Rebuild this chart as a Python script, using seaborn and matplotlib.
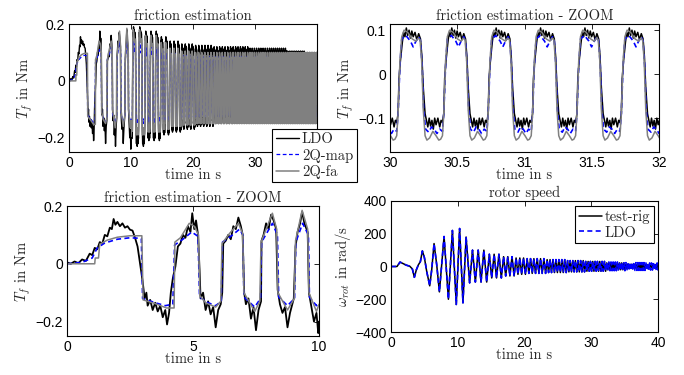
import numpy as np
import matplotlib
matplotlib.use("Agg")
import matplotlib.pyplot as plt
import seaborn as sns

# friction estimate, first 10 s
fa_t = [0, 1.1, 1.12, 1.25, 1.3, 1.6, 2.0, 2.5, 2.97, 3.02, 3.5, 3.95, 4.25, 4.28, 4.5, 4.85, 5.05,
        5.22, 5.27, 5.5, 5.9, 6.1, 6.15, 6.45, 6.8, 6.97, 7.02, 7.45, 7.65, 7.7, 8.15, 8.32, 8.37,
        8.75, 9.02, 9.07, 9.33, 9.55, 9.6, 9.9, 10.0]
fa_v = [0, 0, 0.02, 0.02, 0.068, 0.082, 0.092, 0.097, 0.097, -0.125, -0.138, -0.153, -0.153, 0.075,
        0.09, 0.14, 0.13, 0.1, -0.11, -0.135, -0.15, -0.13, 0.07, 0.105, 0.14, 0.105, -0.1, -0.165,
        -0.13, 0.075, 0.175, 0.12, -0.1, -0.16, -0.12, 0.08, 0.185, 0.12, -0.1, -0.165, -0.14]

map_t = [0, 0.6, 1.0, 1.2, 1.5, 2.0, 2.5, 2.95, 3.0, 3.5, 3.9, 4.2, 4.27, 4.6, 4.95, 5.2, 5.26, 5.6,
         5.9, 6.12, 6.17, 6.5, 6.85, 6.98, 7.02, 7.45, 7.68, 7.72, 8.15, 8.35, 8.4, 8.75, 9.03,
         9.08, 9.35, 9.58, 9.62, 9.9, 10.0]
map_v = [0, 0.005, 0.02, 0.055, 0.072, 0.085, 0.09, 0.088, -0.12, -0.135, -0.145, -0.14, 0.065,
         0.085, 0.11, 0.095, -0.115, -0.135, -0.145, -0.13, 0.075, 0.095, 0.12, 0.1, -0.115, -0.15,
         -0.12, 0.075, 0.14, 0.1, -0.115, -0.145, -0.12, 0.075, 0.14, 0.1, -0.115, -0.145, -0.135]

ldo_t = [0, 0.15, 0.3, 0.45, 0.6, 0.75, 0.9, 1.0, 1.1, 1.2, 1.3, 1.4, 1.5, 1.6, 1.7, 1.78, 1.85,
         1.92, 2.0, 2.1, 2.2, 2.3, 2.4, 2.5, 2.6, 2.7, 2.8, 2.9, 3.0, 3.08, 3.15, 3.2, 3.3, 3.4, 3.5,
         3.6, 3.7, 3.8, 3.9, 3.97, 4.05, 4.12, 4.2, 4.3, 4.4, 4.5, 4.6, 4.7, 4.8, 4.9, 4.97, 5.05,
         5.12, 5.2, 5.26, 5.3, 5.4, 5.5, 5.6, 5.7, 5.8, 5.9, 6.0, 6.1, 6.16, 6.2, 6.3, 6.4, 6.5,
         6.6, 6.7, 6.8, 6.9, 6.97, 7.03, 7.1, 7.2, 7.3, 7.4, 7.5, 7.6, 7.7, 7.72, 7.8, 7.9, 8.0,
         8.1, 8.2, 8.3, 8.36, 8.45, 8.55, 8.65, 8.75, 8.85, 9.0, 9.07, 9.15, 9.25, 9.33, 9.42,
         9.55, 9.6, 9.7, 9.8, 9.9, 9.97, 10.0]
ldo_v = [0.005, 0.0, 0.008, 0.002, 0.015, 0.01, 0.035, 0.03, 0.055, 0.05, 0.075, 0.07, 0.1,
         0.095, 0.125, 0.12, 0.155, 0.135, 0.145, 0.13, 0.14, 0.125, 0.13, 0.118, 0.115, 0.09,
         0.06, 0.0, -0.06, -0.12, -0.1, -0.145, -0.125, -0.16, -0.135, -0.165, -0.145, -0.185,
         -0.16, -0.21, -0.17, -0.1, -0.05, -0.01, 0.06, 0.07, 0.1, 0.09, 0.13, 0.11, 0.175, 0.12,
         0.15, 0.1, -0.02, -0.12, -0.1, -0.16, -0.13, -0.175, -0.15, -0.22, -0.16, -0.14, -0.1,
         0.07, 0.08, 0.1, 0.085, 0.13, 0.12, 0.16, 0.13, 0.1, -0.1, -0.14, -0.12, -0.19, -0.15,
         -0.23, -0.16, -0.13, 0.08, 0.1, 0.14, 0.12, 0.17, 0.15, 0.12, -0.09, -0.14, -0.17, -0.15,
         -0.22, -0.17, -0.12, 0.06, 0.11, 0.14, 0.18, 0.14, 0.11, -0.1, -0.15, -0.2, -0.17, -0.24,
         -0.2]

# one friction cycle around 30 s (phase from rising edge, value in Nm)
fa_ph = [0.0, 0.03, 0.07, 0.11, 0.16, 0.24, 0.34, 0.42, 0.47, 0.51, 0.545, 0.58, 0.62, 0.66,
         0.72, 0.79, 0.86, 0.92, 0.96, 1.0]
fa_cyc = [-0.14, -0.09, 0.03, 0.085, 0.1, 0.095, 0.08, 0.075, 0.082, 0.078, 0.03, -0.08, -0.14,
          -0.15, -0.145, -0.13, -0.14, -0.15, -0.148, -0.14]
map_ph = [0.0, 0.03, 0.07, 0.11, 0.2, 0.3, 0.36, 0.42, 0.48, 0.52, 0.555, 0.59, 0.63, 0.7, 0.76,
          0.82, 0.88, 0.94, 1.0]
map_cyc = [-0.13, -0.09, 0.02, 0.08, 0.088, 0.075, 0.062, 0.075, 0.085, 0.075, 0.02, -0.08,
           -0.125, -0.132, -0.12, -0.125, -0.135, -0.125, -0.13]
ldo_ph = [0.0, 0.03, 0.05, 0.08, 0.12, 0.15, 0.18, 0.21, 0.24, 0.27, 0.30, 0.33, 0.36, 0.40, 0.44,
          0.48, 0.52, 0.55, 0.58, 0.62, 0.65, 0.68, 0.71, 0.74, 0.77, 0.80, 0.83, 0.86, 0.90,
          0.94, 0.97, 1.0]
ldo_cyc = [-0.11, -0.09, -0.01, 0.03, 0.07, 0.095, 0.085, 0.105, 0.088, 0.1, 0.082, 0.098, 0.085,
           0.095, 0.078, 0.092, 0.08, 0.04, -0.03, -0.09, -0.105, -0.12, -0.1, -0.118, -0.105,
           -0.125, -0.1, -0.115, -0.1, -0.12, -0.105, -0.11]

# rising edges seen in the 30-32 s zoom
zoom_rise = [29.72, 30.05, 30.39, 30.72, 31.05, 31.38, 31.71, 32.04]

# chirp after 10 s: window start, period and envelope per window
win_start = [10, 12, 14, 16, 18, 20, 23, 26, 29, 32, 35, 38]
win_period = [1.0, 0.85, 0.72, 0.63, 0.56, 0.5, 0.44, 0.39, 0.35, 0.32, 0.3, 0.28]
fa_hi = [0.18, 0.16, 0.135, 0.115, 0.105, 0.1, 0.1, 0.1, 0.1, 0.1, 0.1, 0.1]
fa_lo = [-0.19, -0.18, -0.17, -0.16, -0.155, -0.15, -0.15, -0.15, -0.15, -0.15, -0.15, -0.15]
map_hi = [0.14, 0.125, 0.11, 0.1, 0.092, 0.088, 0.088, 0.088, 0.088, 0.088, 0.088, 0.088]
map_lo = [-0.15, -0.145, -0.14, -0.135, -0.132, -0.13, -0.13, -0.13, -0.13, -0.13, -0.13, -0.13]
ldo_hi = [0.19, 0.175, 0.155, 0.14, 0.13, 0.125, 0.12, 0.12, 0.115, 0.115, 0.105, 0.1]
ldo_lo = [-0.23, -0.21, -0.19, -0.18, -0.17, -0.16, -0.15, -0.14, -0.13, -0.12, -0.12, -0.12]

# rotor speed extrema up to 12 s (rad/s)
rot_t = [0, 0.9, 1.35, 1.8, 2.3, 2.8, 3.2, 3.5, 3.8, 4.1, 4.4, 4.7, 5.0, 5.35, 5.8, 6.1, 6.45,
         6.85, 7.25, 7.95, 8.6, 9.2, 9.78, 10.28, 10.78, 11.25, 11.78]
rot_v = [0, 0, 27, 18, 8, 2, -15, -66, -20, 10, 30, 95, 55, -30, -118, -20, 140, 10, -155, 183,
         -200, 220, -232, 232, -222, 180, -100]
rig_hi = [180, 100, 75, 60, 52, 48, 42, 36, 31, 22, 14, 12]
rig_lo = [-200, -95, -70, -58, -48, -42, -37, -33, -29, -20, -12, -10]
rldo_hi = [180, 100, 75, 60, 52, 48, 42, 36, 31, 28, 24, 22]
rldo_lo = [-200, -95, -70, -58, -48, -42, -37, -33, -29, -26, -24, -22]


def chirp_rises(t0, t_end):
    rises = [t0]
    while rises[-1] < t_end:
        k = np.searchsorted(win_start, rises[-1], side="right") - 1
        rises.append(rises[-1] + win_period[k])
    return rises


def cycles(rises, ph, cyc, hi=None, lo=None):
    ph = np.asarray(ph)
    cyc = np.asarray(cyc)
    ts, vs = [], []
    for r0, r1 in zip(rises[:-1], rises[1:]):
        v = cyc
        if hi is not None:
            k = np.searchsorted(win_start, r0, side="right") - 1
            v = np.where(cyc > 0, cyc * hi[k] / cyc.max(), cyc * lo[k] / cyc.min())
        ts.extend(r0 + ph[:-1] * (r1 - r0))
        vs.extend(v[:-1])
    return ts, vs


def rotor(hi, lo):
    ts, vs = list(rot_t), list(rot_v)
    rises = chirp_rises(12.0, 40.5)
    for r0, r1 in zip(rises[:-1], rises[1:]):
        k = np.searchsorted(win_start, r0, side="right") - 1
        p = r1 - r0
        ts += [r0 + 0.25 * p, r0 + 0.75 * p]
        vs += [hi[k], lo[k]]
    return ts, vs


sns.set_theme(style="white")
plt.rcParams["font.family"] = ["cmr10", "DejaVu Serif"]
plt.rcParams["mathtext.fontset"] = "cm"
plt.rcParams["axes.unicode_minus"] = True
plt.rcParams["axes.edgecolor"] = "black"
plt.rcParams["axes.linewidth"] = 0.8

BLUE = "#0000ff"
GRAY = "#808080"
DASH = (0, (3, 2))

fig = plt.figure(figsize=(6.84, 3.75), dpi=100)
W, H = 684.0, 375.0


def make_ax(l, t, r, b):
    return fig.add_axes([l / W, 1 - b / H, (r - l) / W, (b - t) / H])


def style(ax, title, ylabel):
    ax.set_title(title, fontsize=10.5, pad=3)
    ax.set_xlabel("time in s", fontsize=10.5, labelpad=-1)
    ax.set_ylabel(ylabel, fontsize=10.5, labelpad=2)
    ax.tick_params(direction="in", top=True, right=True, length=3.5, width=0.6,
                   labelsize=10, pad=3, colors="black", labelfontfamily="Liberation Sans")
    for s in ax.spines.values():
        s.set_visible(True)
        s.set_color("black")


def draw(ax, t, v, color, lw, ls="-", label=None):
    sns.lineplot(x=t, y=v, ax=ax, color=color, lw=lw, linestyle=ls, sort=False,
                 estimator=None, label=label, legend=False)


# top-left: whole run
ax1 = make_ax(69, 24, 317, 152)
rises = chirp_rises(10.2, 40.5)
t_l, v_l = cycles(rises, ldo_ph, ldo_cyc, ldo_hi, ldo_lo)
t_m, v_m = cycles(rises, map_ph, map_cyc, map_hi, map_lo)
t_f, v_f = cycles(rises, fa_ph, fa_cyc, fa_hi, fa_lo)
draw(ax1, ldo_t + t_l, ldo_v + v_l, "black", 1.0, label="LDO")
draw(ax1, map_t + t_m, map_v + v_m, BLUE, 0.9, DASH, label="2Q-map")
draw(ax1, fa_t + t_f, fa_v + v_f, GRAY, 1.1, label="2Q-fa")
ax1.set_xlim(0, 40)
ax1.set_ylim(-0.25, 0.2)
ax1.set_xticks([0, 10, 20, 30, 40])
ax1.set_xticklabels(["0", "10", "20", "30", ""])
ax1.set_yticks([-0.2, 0, 0.2])
ax1.set_yticklabels(["\u22120.2", "0", "0.2"])
style(ax1, "friction estimation", "$T_f$ in Nm")

# top-right: zoom 30-32 s
ax2 = make_ax(390, 24, 659, 152)
t_l, v_l = cycles(zoom_rise, ldo_ph, ldo_cyc)
t_m, v_m = cycles(zoom_rise, map_ph, map_cyc)
t_f, v_f = cycles(zoom_rise, fa_ph, fa_cyc)
draw(ax2, t_l, v_l, "black", 1.1)
draw(ax2, t_m, v_m, BLUE, 1.2, DASH)
draw(ax2, t_f, v_f, GRAY, 1.1)
ax2.set_xlim(30, 32)
ax2.set_ylim(-0.177, 0.114)
ax2.set_xticks([30, 30.5, 31, 31.5, 32])
ax2.set_xticklabels(["30", "30.5", "31", "31.5", "32"])
ax2.set_yticks([-0.1, 0, 0.1])
ax2.set_yticklabels(["\u22120.1", "0", "0.1"])
style(ax2, "friction estimation - ZOOM", "$T_f$ in Nm")

# bottom-left: zoom 0-10 s
ax3 = make_ax(67, 206, 319, 336)
draw(ax3, ldo_t, ldo_v, "black", 1.3)
draw(ax3, map_t, map_v, BLUE, 1.2, DASH)
draw(ax3, fa_t, fa_v, GRAY, 1.1)
ax3.set_xlim(0, 10)
ax3.set_ylim(-0.25, 0.2)
ax3.set_xticks([0, 5, 10])
ax3.set_yticks([-0.2, 0, 0.2])
ax3.set_yticklabels(["\u22120.2", "0", "0.2"])
style(ax3, "friction estimation - ZOOM", "$T_f$ in Nm")

# bottom-right: rotor speed
ax4 = make_ax(391, 201, 658, 332)
t_r, v_r = rotor(rig_hi, rig_lo)
t_o, v_o = rotor(rldo_hi, rldo_lo)
draw(ax4, t_r, v_r, "black", 1.1, label="test-rig")
draw(ax4, t_o, v_o, BLUE, 1.2, DASH, label="LDO")
ax4.set_xlim(0, 40)
ax4.set_ylim(-400, 400)
ax4.set_xticks([0, 10, 20, 30, 40])
ax4.set_yticks([-400, -200, 0, 200, 400])
ax4.set_yticklabels(["\u2212400", "\u2212200", "0", "200", "400"])
style(ax4, "rotor speed", "$\\omega_{rot}$ in rad/s")

leg_kw = dict(fontsize=10.5, frameon=True, fancybox=False, edgecolor="black", framealpha=1,
              handlelength=1.6, handletextpad=0.2, labelspacing=0.15, borderpad=0.25,
              borderaxespad=0)
h, l = ax1.get_legend_handles_labels()
lg = fig.legend(h, l, loc="upper left", bbox_to_anchor=(272 / W, 1 - 129 / H), **leg_kw)
lg.get_frame().set_linewidth(0.8)
lg.set_zorder(10)
h, l = ax4.get_legend_handles_labels()
lg2 = ax4.legend(h, l, loc="upper right", bbox_to_anchor=(654 / W, 1 - 206 / H),
                 bbox_transform=fig.transFigure, **leg_kw)
lg2.get_frame().set_linewidth(0.8)

fig.savefig("out.png", dpi=100)
